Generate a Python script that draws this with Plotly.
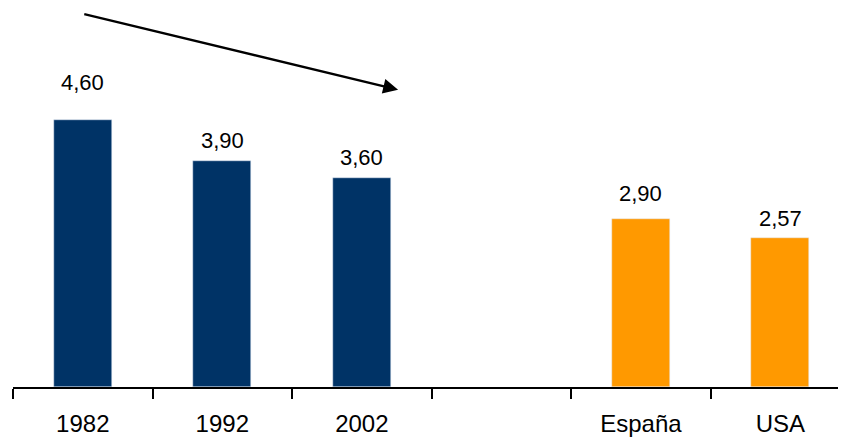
import plotly.graph_objects as go

categories = ["1982", "1992", "2002", " ", "España", "USA"]
values = [4.60, 3.90, 3.60, None, 2.90, 2.57]
labels = ["4,60", "3,90", "3,60", "", "2,90", "2,57"]
navy_cats = ["1982", "1992", "2002"]

NAVY = "#003366"
ORANGE = "#FF9900"
colors = [NAVY if c in navy_cats else ORANGE for c in categories]

fig = go.Figure()
fig.add_trace(go.Bar(
    x=categories, y=values, marker_color=colors, width=0.415,
    hoverinfo="skip", showlegend=False,
))

# label vertical offsets (pixels above bar top, to centre of text)
shifts = [38, 20, 21, 0, 25, 20]
for i, (v, t, s) in enumerate(zip(values, labels, shifts)):
    if v is None:
        continue
    fig.add_annotation(x=i, y=v, text=t, showarrow=False, xref="x", yref="y",
                       yanchor="middle", yshift=s,
                       font=dict(family="Liberation Sans, Arial", size=22, color="black"))

# trend arrow
fig.add_annotation(x=2.26, y=5.13, ax=0, ay=6.44, xref="x", yref="y",
                   axref="x", ayref="y", text="", showarrow=True,
                   arrowhead=2, arrowsize=1.3, arrowwidth=2.3, arrowcolor="black")

fig.update_layout(
    width=838, height=429,
    margin=dict(l=5, r=0, t=0, b=48),
    plot_bgcolor="white", paper_bgcolor="white",
    font=dict(family="Liberation Sans, Arial", size=24, color="black"),
    bargap=0,
)
fig.update_xaxes(
    type="category", range=[-0.5, 5.47], tickson="boundaries",
    ticks="outside", ticklen=10, tickwidth=1.5, tickcolor="black",
    showline=True, linecolor="black", linewidth=2, showgrid=False,
    tickfont=dict(size=24), ticklabelstandoff=14, fixedrange=True,
)
fig.update_yaxes(range=[0, 6.54], visible=False, showgrid=False, fixedrange=True)

fig.write_html("out.html")
